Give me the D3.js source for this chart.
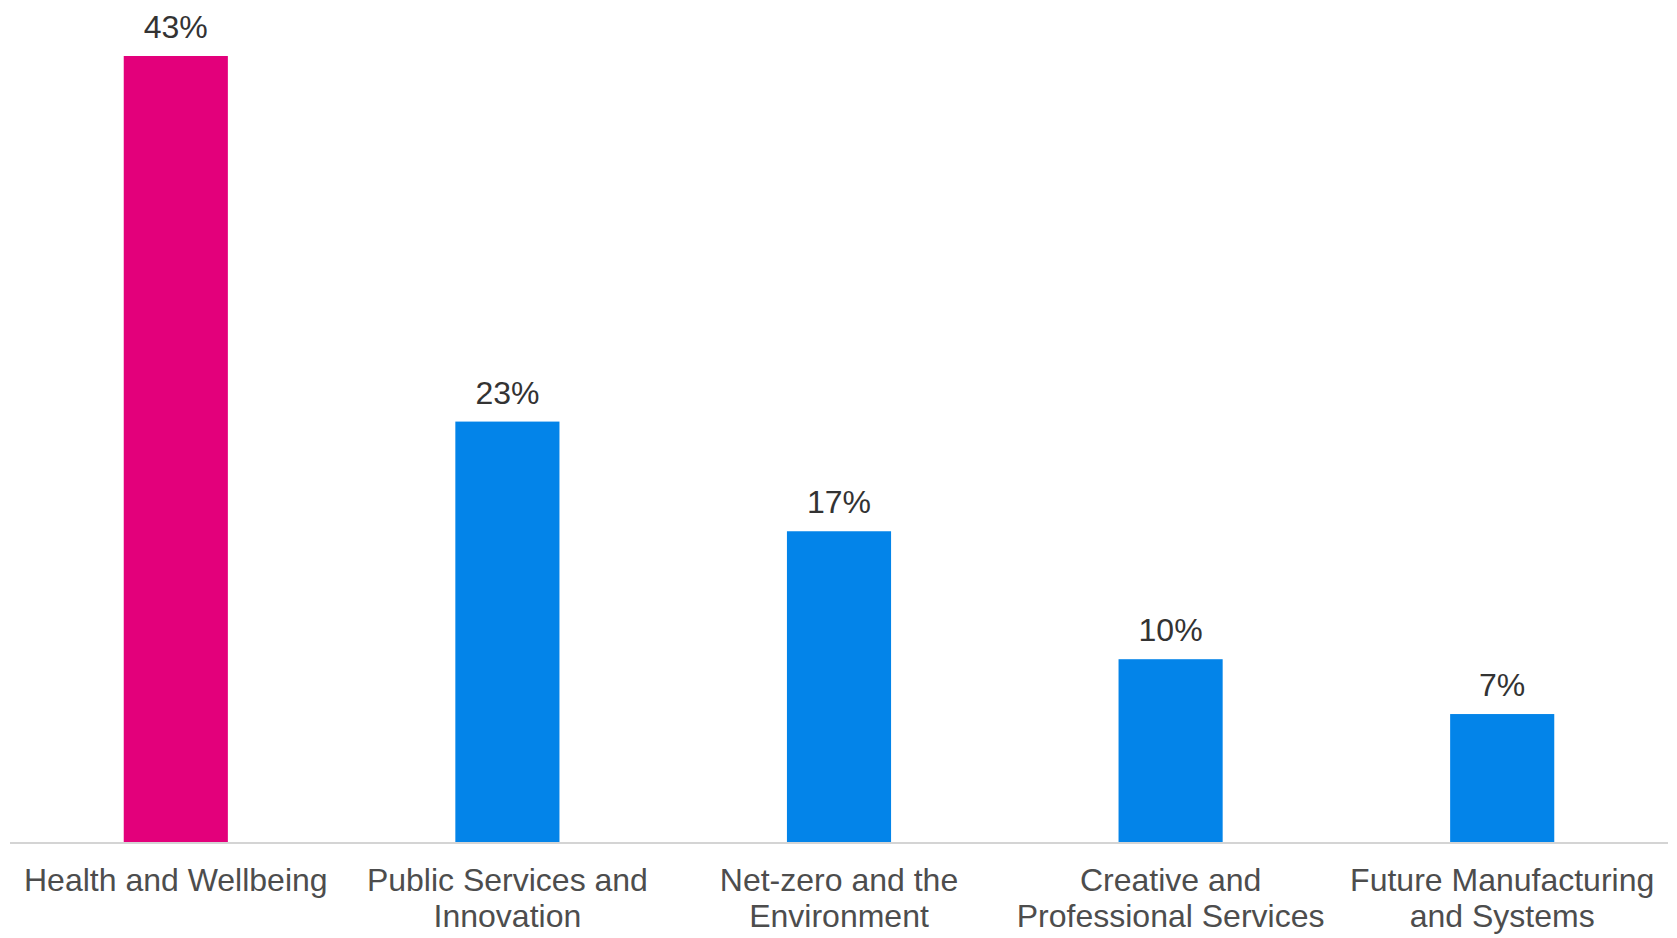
<!DOCTYPE html>
<html>
<head>
<meta charset="utf-8">
<script src="https://cdn.jsdelivr.net/npm/d3@7"></script>
<style>
  html, body { margin: 0; padding: 0; background: #ffffff; }
  svg { display: block; }
</style>
</head>
<body>
<svg id="chart" width="1677" height="938"></svg>
<script>
// Share of responses by theme (%)
const categories = [
  ["Health and Wellbeing"],
  ["Public Services and", "Innovation"],
  ["Net-zero and the", "Environment"],
  ["Creative and", "Professional Services"],
  ["Future Manufacturing", "and Systems"]
];
const values = [43, 23, 17, 10, 7];
const barColors = ["#e3007b", "#0384e9", "#0384e9", "#0384e9", "#0384e9"];

(function () {
  const svg = d3.select("#chart");
  const plotLeft = 10, plotRight = 1668, baseline = 842, plotTop = 56;
  const font = "'Liberation Sans', Arial, sans-serif";

  const x = d3.scaleBand()
    .domain(d3.range(values.length))
    .range([plotLeft, plotRight])
    .paddingInner(0.686)
    .paddingOuter(0.343);

  const y = d3.scaleLinear()
    .domain([0, 43])
    .range([baseline, plotTop]);

  // Bars
  svg.append("g").selectAll("rect")
    .data(values)
    .join("rect")
    .attr("x", (d, i) => x(i))
    .attr("y", d => y(d))
    .attr("width", x.bandwidth())
    .attr("height", d => baseline - y(d))
    .attr("fill", (d, i) => barColors[i]);

  // Baseline axis
  svg.append("line")
    .attr("x1", plotLeft).attr("x2", plotRight)
    .attr("y1", baseline + 1).attr("y2", baseline + 1)
    .attr("stroke", "#d4d4d4")
    .attr("stroke-width", 2);

  // Value labels
  svg.append("g").selectAll("text")
    .data(values)
    .join("text")
    .attr("x", (d, i) => x(i) + x.bandwidth() / 2)
    .attr("y", d => y(d) - 18)
    .attr("text-anchor", "middle")
    .attr("font-family", font)
    .attr("font-size", 32)
    .attr("fill", "#333333")
    .text(d => d + "%");

  // Category labels
  svg.append("g").selectAll("text")
    .data(categories)
    .join("text")
    .attr("text-anchor", "middle")
    .attr("font-family", font)
    .attr("font-size", 32)
    .attr("fill", "#4d4d4d")
    .each(function (lines, i) {
      const t = d3.select(this);
      lines.forEach((line, j) => {
        t.append("tspan")
          .attr("x", x(i) + x.bandwidth() / 2)
          .attr("y", 891 + j * 36)
          .text(line);
      });
    });
})();
</script>
</body>
</html>
